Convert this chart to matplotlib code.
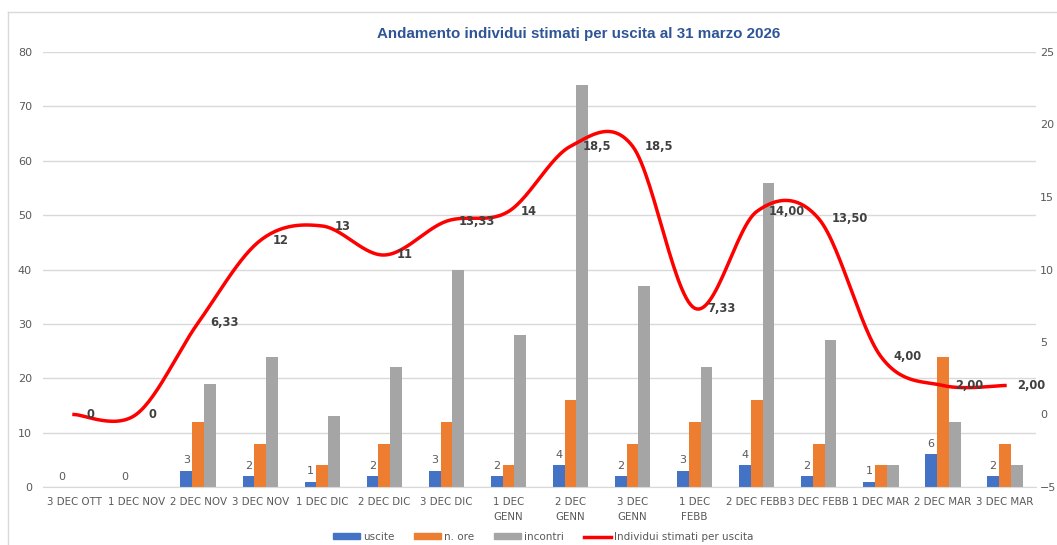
import numpy as np
import matplotlib
matplotlib.use("Agg")
from matplotlib import pyplot as plt
from matplotlib.lines import Line2D
from matplotlib.patches import Patch

# data
categories = ["3 DEC OTT", "1 DEC NOV", "2 DEC NOV", "3 DEC NOV", "1 DEC DIC", "2 DEC DIC",
              "3 DEC DIC", "1 DEC\nGENN", "2 DEC\nGENN", "3 DEC\nGENN", "1 DEC\nFEBB",
              "2 DEC FEBB", "3 DEC FEBB", "1 DEC MAR", "2 DEC MAR", "3 DEC MAR"]
uscite = [0, 0, 3, 2, 1, 2, 3, 2, 4, 2, 3, 4, 2, 1, 6, 2]
n_ore = [0, 0, 12, 8, 4, 8, 12, 4, 16, 8, 12, 16, 8, 4, 24, 8]
incontri = [0, 0, 19, 24, 13, 22, 40, 28, 74, 37, 22, 56, 27, 4, 12, 4]
individui = [0, 0, 6.33, 12, 13, 11, 13.33, 14, 18.5, 18.5, 7.33, 14.00, 13.50, 4.00, 2.00, 2.00]
individui_labels = ["0", "0", "6,33", "12", "13", "11", "13,33", "14", "18,5", "18,5",
                    "7,33", "14,00", "13,50", "4,00", "2,00", "2,00"]

BLUE = "#4472C4"
ORANGE = "#ED7D31"
GREY = "#A5A5A5"
RED = "#FF0000"
TXT = "#595959"


def smooth(xs, ys, n=30):
    # catmull-rom style smoothing like excel's "smoothed line"
    pts = np.column_stack([xs, ys]).astype(float)
    ext = np.vstack([pts[0], pts, pts[-1]])
    out = []
    for i in range(1, len(ext) - 2):
        p0, p1, p2, p3 = ext[i - 1], ext[i], ext[i + 1], ext[i + 2]
        c1 = p1 + (p2 - p0) / 6.0
        c2 = p2 - (p3 - p1) / 6.0
        t = np.linspace(0, 1, n)[:, None]
        seg = ((1 - t) ** 3) * p1 + 3 * ((1 - t) ** 2) * t * c1 + 3 * (1 - t) * t ** 2 * c2 + t ** 3 * p2
        out.append(seg)
    out = np.vstack(out)
    return out[:, 0], out[:, 1]


fig = plt.figure(figsize=(10.57, 5.45), dpi=100)
ax = fig.add_axes([43 / 1057, 1 - 487 / 545, (1036 - 43) / 1057, (487 - 52) / 545])
ax2 = ax.twinx()

x = np.arange(len(categories))
w = 0.19
ax.bar(x - w, uscite, w, color=BLUE, zorder=2)
ax.bar(x, n_ore, w, color=ORANGE, zorder=2)
ax.bar(x + w, incontri, w, color=GREY, zorder=2)

for xi, v in zip(x, uscite):
    ax.text(xi - w, v + 1.0, str(v), ha="center", va="bottom", fontsize=8, color=TXT)

ax.set_xlim(-0.5, len(categories) - 0.5)
ax.set_ylim(0, 80)
ax.set_yticks(range(0, 81, 10))
ax.set_xticks(x)
ax.set_xticklabels(categories, fontsize=7.4, color=TXT, linespacing=1.6)
ax.tick_params(axis="y", labelsize=8, labelcolor=TXT, length=0, pad=8)
ax.tick_params(axis="x", length=0, pad=7)
ax.grid(axis="y", color="#D9D9D9", linewidth=1, zorder=0)
ax.set_axisbelow(True)
for s in ax.spines.values():
    s.set_visible(False)
ax.spines["bottom"].set_visible(True)
ax.spines["bottom"].set_color("#D9D9D9")

sx, sy = smooth(x, individui)
ax2.plot(sx, sy, color=RED, linewidth=2.5, zorder=3)
for xi, v, lab in zip(x, individui, individui_labels):
    ax2.text(xi + 0.2, v, lab, ha="left", va="center", fontsize=8.3,
             fontweight="bold", color="#404040", zorder=4)
ax2.set_ylim(-5, 25)
ax2.set_yticks(range(-5, 26, 5))
ax2.tick_params(axis="y", labelsize=8, labelcolor=TXT, length=0, pad=3)
for s in ax2.spines.values():
    s.set_visible(False)

fig.text(579 / 1057, 1 - 34 / 545, "Andamento individui stimati per uscita al 31 marzo 2026",
         ha="center", va="center", fontsize=10.9, fontweight="bold", color="#2F5597",
         family=["Liberation Sans", "DejaVu Sans"])

handles = [Patch(color=BLUE), Patch(color=ORANGE), Patch(color=GREY),
           Line2D([], [], color=RED, linewidth=2.5)]
fig.legend(handles, ["uscite", "n. ore", "incontri", "Individui stimati per uscita"],
           loc="center", bbox_to_anchor=(543 / 1057, 1 - 537 / 545), ncol=4, frameon=False,
           fontsize=7.5, labelcolor=TXT, handlelength=2.6, handleheight=0.45,
           handletextpad=0.3, columnspacing=1.9)

# chart area border
fig.add_artist(Line2D([8 / 1057, 8 / 1057], [0, 1 - 12 / 545], color="#D9D9D9", linewidth=1))
fig.add_artist(Line2D([8 / 1057, 1], [1 - 12 / 545, 1 - 12 / 545], color="#D9D9D9", linewidth=1))

fig.savefig("out.png", dpi=100)
